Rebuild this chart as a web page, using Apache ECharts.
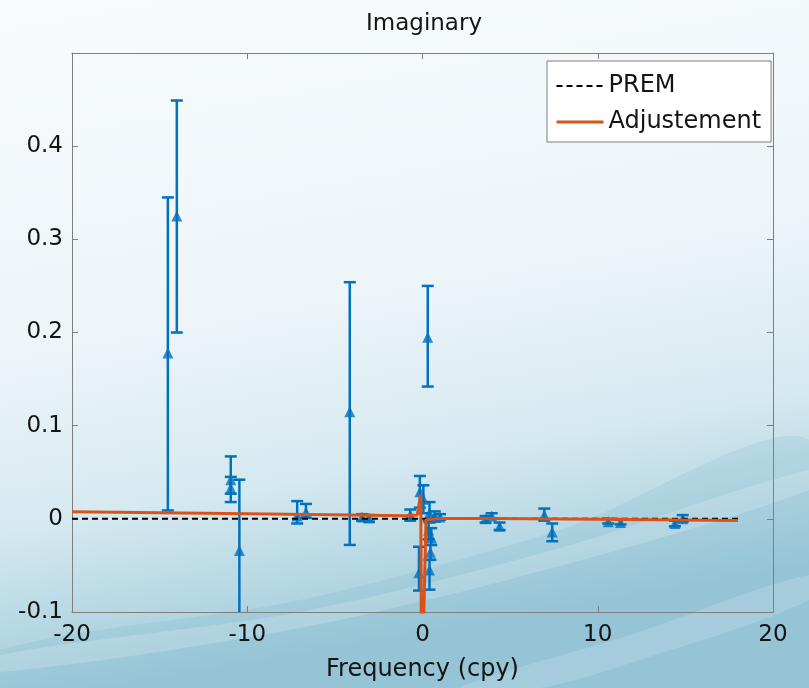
<!DOCTYPE html>
<html>
<head>
<meta charset="utf-8">
<title>Imaginary</title>
<script src="https://cdn.jsdelivr.net/npm/echarts@6/dist/echarts.min.js"></script>
<style>
  html, body { margin: 0; padding: 0; }
  #chart { width: 809px; height: 688px; }
</style>
</head>
<body>
<div id="chart"></div>
<script>
// observed values: frequency (cpy), value, lower / upper end of the error bar
const obsFreq = [-14.53, -14.02, -10.94, -10.94, -10.45, -7.15, -6.65, -4.15, -3.45, -3.05,
  -0.7, -0.15, 0.05, 0.3, 0.4, 0.7, 1.0, 0.35, 0.5, 0.45, 0.4, -0.2,
  3.6, 3.95, 4.4, 6.95, 7.4, 10.6, 11.3, 14.4, 14.85]
const obsVal = [0.178, 0.325, 0.042, 0.033, -0.034, 0.003, 0.007, 0.115, 0.002, 0.001,
  0.004, 0.029, 0.021, 0.195, 0.006, 0.003, 0.002, -0.012, -0.020, -0.036, -0.055, -0.058,
  0.000, 0.003, -0.008, 0.004, -0.014, -0.003, -0.004, -0.005, 0.000]
const errLow = [0.009, 0.200, 0.027, 0.018, -0.160, -0.005, 0.001, -0.028, -0.002, -0.003,
  -0.002, 0.012, 0.006, 0.142, -0.004, -0.003, -0.001, -0.022, -0.028, -0.044, -0.076, -0.077,
  -0.004, 0.000, -0.012, -0.002, -0.024, -0.005, -0.006, -0.008, -0.003]
const errHigh = [0.345, 0.449, 0.067, 0.045, 0.042, 0.019, 0.016, 0.254, 0.005, 0.004,
  0.010, 0.046, 0.036, 0.250, 0.018, 0.008, 0.005, -0.002, -0.010, -0.028, -0.044, -0.030,
  0.003, 0.006, -0.004, 0.011, -0.005, 0.000, -0.001, -0.002, 0.004]

// PREM model and adjusted model
const premFreq = [-20, 18]
const premVal = [0, 0]
const adjFreq = [-20, -10, -4, -1, -0.3, -0.1, -0.05, 0.2, 1, 4, 10, 18]
const adjVal = [0.0075, 0.0055, 0.0042, 0.0034, 0.0040, 0.026, -0.2, -0.001, 0.0004, 0.0003, -0.0005, -0.0017]

const xTicks = { min: -20, max: 20, interval: 10 }
const yTicks = { min: -0.1, max: 0.5, interval: 0.1 }

const blue = '#0072BD'
const orange = '#D95319'
const axisGray = '#7f7f7f'
const font = 'DejaVu Sans'

const chart = echarts.init(document.getElementById('chart'))

const errData = obsFreq.map((f, i) => [f, errLow[i], errHigh[i]])
const obsData = obsFreq.map((f, i) => [f, obsVal[i]])

function renderErr(params, api) {
  const f = api.value(0)
  const top = api.coord([f, api.value(2)])
  const bot = api.coord([f, api.value(1)])
  const w = 6
  const style = { stroke: blue, lineWidth: 2.5 }
  return {
    type: 'group',
    children: [
      { type: 'line', shape: { x1: top[0], y1: top[1], x2: bot[0], y2: bot[1] }, style: style },
      { type: 'line', shape: { x1: top[0] - w, y1: top[1], x2: top[0] + w, y2: top[1] }, style: style },
      { type: 'line', shape: { x1: bot[0] - w, y1: bot[1], x2: bot[0] + w, y2: bot[1] }, style: style }
    ]
  }
}

// top and right axes only close the box
const boxAxis = {
  axisLine: { show: true, onZero: false, lineStyle: { color: axisGray, width: 1 } },
  axisTick: { show: true, inside: true, length: 6, lineStyle: { color: axisGray } },
  axisLabel: { show: false },
  splitLine: { show: false }
}

chart.setOption({
  backgroundColor: {
    type: 'linear', x: 0, y: 0, x2: 0.15, y2: 1,
    colorStops: [
      { offset: 0, color: '#f8fbfd' },
      { offset: 0.5, color: '#edf5f9' },
      { offset: 0.75, color: '#d5e9f0' },
      { offset: 1, color: '#9fcadb' }
    ]
  },
  graphic: [
    {
      type: 'polygon', silent: true, z: -10,
      shape: { points: [[0, 650], [300, 600], [560, 530], [809, 440], [809, 688], [0, 688]], smooth: 0.3 },
      style: { fill: 'rgba(90,160,185,0.14)' }
    },
    {
      type: 'polygon', silent: true, z: -9,
      shape: { points: [[0, 655], [300, 612], [560, 548], [809, 470], [809, 490], [560, 566], [300, 628], [0, 672]], smooth: 0.3 },
      style: { fill: 'rgba(255,255,255,0.18)' }
    },
    {
      type: 'polygon', silent: true, z: -9,
      shape: { points: [[460, 688], [630, 635], [809, 575], [809, 600], [640, 660], [540, 688]], smooth: 0.3 },
      style: { fill: 'rgba(255,255,255,0.15)' }
    }
  ],
  title: {
    text: 'Imaginary',
    left: 361,
    top: 8,
    textStyle: { fontFamily: font, fontSize: 23, fontWeight: 'normal', color: '#141414' }
  },
  legend: {
    orient: 'vertical',
    left: 547,
    top: 61,
    width: 225,
    padding: [11, 10, 6, 8],
    itemGap: 8,
    itemWidth: 47,
    itemHeight: 14,
    itemStyle: { opacity: 0 },
    backgroundColor: '#ffffff',
    borderColor: axisGray,
    borderWidth: 1,
    data: [
      { name: 'PREM', lineStyle: { width: 2 } },
      { name: 'Adjustement', lineStyle: { width: 3 } }
    ],
    textStyle: { fontFamily: font, fontSize: 24, lineHeight: 28, color: '#141414' }
  },
  grid: { left: 72, right: 36, top: 53, bottom: 76 },
  xAxis: [
    {
      type: 'value',
      min: xTicks.min, max: xTicks.max, interval: xTicks.interval,
      name: 'Frequency (cpy)',
      nameLocation: 'middle',
      nameGap: 46,
      nameTextStyle: { fontFamily: font, fontSize: 24, color: '#141414' },
      axisLine: { show: true, onZero: false, lineStyle: { color: axisGray, width: 1 } },
      axisTick: { show: true, inside: true, length: 6, lineStyle: { color: axisGray } },
      axisLabel: { fontFamily: font, fontSize: 23, color: '#141414', margin: 12 },
      splitLine: { show: false }
    },
    Object.assign({ type: 'value', position: 'top', min: xTicks.min, max: xTicks.max, interval: xTicks.interval }, boxAxis)
  ],
  yAxis: [
    {
      type: 'value',
      min: yTicks.min, max: yTicks.max, interval: yTicks.interval,
      axisLine: { show: true, onZero: false, lineStyle: { color: axisGray, width: 1 } },
      axisTick: { show: true, inside: true, length: 6, lineStyle: { color: axisGray } },
      axisLabel: { fontFamily: font, fontSize: 23, color: '#141414', margin: 9, showMaxLabel: false },
      splitLine: { show: false }
    },
    Object.assign({ type: 'value', position: 'right', min: yTicks.min, max: yTicks.max, interval: yTicks.interval }, boxAxis)
  ],
  series: [
    {
      name: 'errors',
      type: 'custom',
      renderItem: renderErr,
      clip: true,
      data: errData,
      z: 2,
      silent: true
    },
    {
      name: 'observed',
      type: 'scatter',
      symbol: 'triangle',
      symbolSize: 11,
      itemStyle: { color: blue },
      data: obsData,
      z: 3,
      silent: true
    },
    {
      name: 'PREM',
      type: 'line',
      showSymbol: false,
      symbol: 'none',
      lineStyle: { color: '#000000', width: 2, type: [6, 4] },
      itemStyle: { color: '#000000' },
      data: premFreq.map((f, i) => [f, premVal[i]]),
      z: 4,
      animation: false
    },
    {
      name: 'Adjustement',
      type: 'line',
      showSymbol: false,
      symbol: 'none',
      lineStyle: { color: orange, width: 3 },
      itemStyle: { color: orange },
      data: adjFreq.map((f, i) => [f, adjVal[i]]),
      z: 5,
      animation: false
    }
  ]
})
</script>
</body>
</html>
